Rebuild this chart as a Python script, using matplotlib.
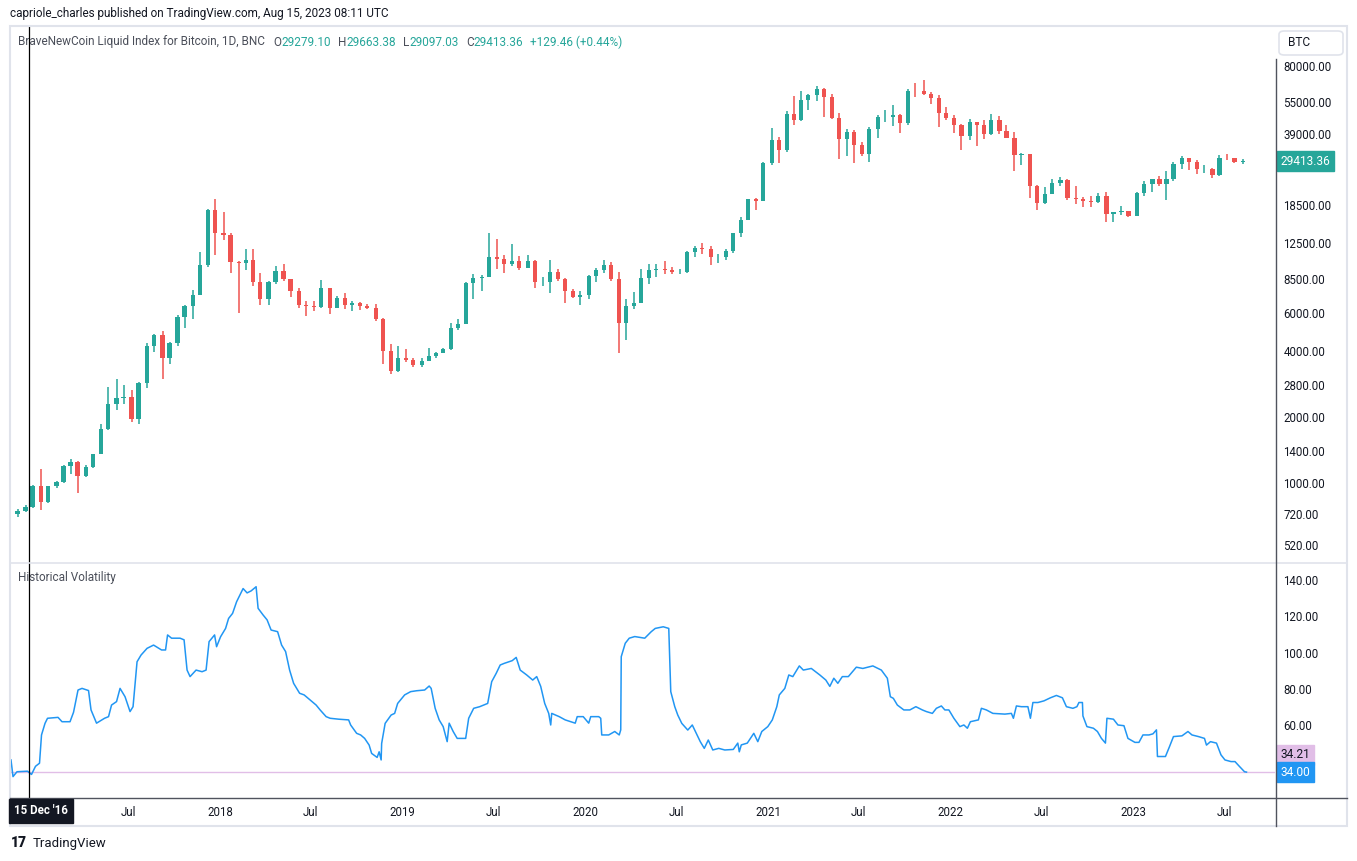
import numpy as np
import pandas as pd
import matplotlib
matplotlib.use('Agg')
import matplotlib.pyplot as plt
import matplotlib.dates as mdates
from matplotlib.patches import Rectangle, FancyBboxPatch
from matplotlib.lines import Line2D

plt.rcParams['font.family'] = ['Roboto', 'DejaVu Sans']

# semi-monthly candles (1st / 15th), each open is the previous close
candle_start = pd.date_range('2016-11-15', '2023-08-01', freq='SMS')
first_open = 720
closes = [745, 780, 965,
          820, 965, 1010, 1190, 1250, 1080, 1180, 1350, 1760, 2300, 2450, 2480,
          1950, 2870, 4200, 4750, 3700, 4350, 5700, 6450, 7250, 9900, 17600, 13800,
          13600, 10200, 10100, 10400, 8300, 6900, 8300, 9250, 8500, 7500, 6500, 6400,
          6350, 7750, 6300, 7000, 6500, 6600, 6400, 6300, 5600, 4000, 3250, 3700,
          3650, 3450, 3600, 3800, 3900, 4100, 5100, 5300, 8200, 8600, 8700, 10800,
          10500, 10000, 10300, 9600, 10300, 8300, 8300, 9150, 8500, 7550, 7100, 7200,
          8800, 9350, 9900, 8550, 5350, 6400, 6650, 8650, 9350, 9450, 9400, 9150,
          9200, 11300, 11800, 11650, 10800, 10800, 11400, 13800, 15900, 19700, 19400, 29000,
          36800, 33100, 48600, 45200, 56000, 58800, 63200, 57700, 46500, 37300, 40200, 35000,
          31800, 41500, 47000, 47100, 48100, 43800, 61500, 61300, 60000, 57000, 48900, 46300,
          43100, 38500, 44500, 43200, 39300, 45500, 40500, 37700, 31300, 31800, 22600, 19000,
          20800, 23300, 24200, 20000, 19700, 19400, 19100, 20500, 16900, 17200, 17400, 16550,
          21000, 23100, 24300, 23150, 24400, 28500, 30400, 29300, 27200, 27200, 25600, 30500,
          30300, 29200, 29413.36]
highs = [760, 790, 975,
         1160, 970, 1020, 1210, 1290, 1260, 1210, 1360, 1850, 2750, 2980, 2800,
         2650, 2900, 4350, 4800, 4950, 4400, 5850, 6470, 7600, 11300, 17900, 19800,
         17200, 13900, 10300, 11700, 11700, 9100, 8400, 9800, 9950, 8550, 7750, 6800,
         6800, 8450, 7800, 7150, 7400, 6800, 6700, 6550, 6550, 5650, 4300, 4200,
         4100, 3700, 3700, 4150, 3950, 4150, 5400, 5600, 8300, 9000, 8900, 13800,
         13000, 11000, 12300, 10900, 10950, 10400, 8700, 10400, 9500, 8600, 7700, 7500,
         8900, 9600, 10400, 10200, 9200, 6900, 7450, 9450, 10000, 9950, 10300, 9700,
         9450, 11400, 12100, 12450, 12050, 11100, 11700, 13900, 16400, 19850, 19900, 29300,
         41900, 38000, 49700, 58300, 61700, 60000, 64800, 63600, 59500, 48900, 41300, 40900,
         35900, 42300, 48100, 50500, 52900, 48500, 62900, 67000, 68900, 61000, 59000, 52000,
         47900, 43500, 45800, 44600, 45400, 48200, 47400, 42900, 39900, 32000, 31800, 23000,
         22400, 24300, 25000, 24400, 22700, 20300, 20400, 21000, 21400, 17300, 18300, 17500,
         21200, 23900, 24500, 25200, 26500, 29200, 31000, 30500, 29800, 28400, 27400, 31400,
         31800, 30400, 30200]
lows = [700, 740, 770,
        750, 810, 950, 1000, 1100, 900, 1060, 1170, 1350, 1740, 2150, 2300,
        1900, 1850, 2700, 3950, 2980, 3500, 4200, 5100, 5600, 7200, 9700, 11000,
        12800, 9100, 6000, 9400, 7900, 6500, 6500, 8100, 8400, 7100, 6300, 5800,
        6100, 6300, 5900, 6300, 6200, 6100, 6150, 6200, 5500, 3500, 3150, 3200,
        3550, 3400, 3400, 3600, 3700, 3900, 4050, 5000, 5300, 6900, 7500, 8700,
        9500, 9100, 9800, 9400, 9600, 7800, 7900, 7400, 8400, 6600, 7000, 6500,
        6900, 8300, 9100, 8400, 3900, 4500, 6200, 6600, 8100, 8700, 8950, 8950,
        9000, 9050, 10700, 11100, 9900, 10150, 10400, 11200, 13300, 15800, 17600, 19300,
        28200, 29000, 32300, 43000, 45000, 50500, 55600, 47000, 46000, 30000, 31100, 28800,
        31000, 29300, 37600, 44300, 42800, 39600, 43300, 58000, 59000, 53500, 42000, 45500,
        39800, 33000, 36700, 34400, 37200, 38800, 39300, 37600, 26700, 28300, 20100, 17600,
        18800, 20800, 22600, 19600, 18700, 18200, 18200, 19000, 15600, 15500, 16800, 16300,
        16500, 20400, 21400, 22800, 19600, 24000, 27200, 26900, 25800, 26100, 24800, 25300,
        29800, 28900, 28700]

vol_dates = [
    '2016-11-09', '2016-11-13', '2016-11-21', '2016-12-12', '2016-12-20', '2016-12-28',
    '2017-01-05', '2017-01-09', '2017-01-16', '2017-01-21', '2017-02-11', '2017-02-19',
    '2017-03-07', '2017-03-14', '2017-03-23', '2017-03-31', '2017-04-13', '2017-04-18',
    '2017-04-29', '2017-05-15', '2017-05-23', '2017-05-29', '2017-06-08', '2017-06-15',
    '2017-06-25', '2017-07-05', '2017-07-11', '2017-07-19', '2017-07-27', '2017-08-08',
    '2017-08-21', '2017-09-06', '2017-09-14', '2017-09-18', '2017-09-26', '2017-10-13',
    '2017-10-21', '2017-10-27', '2017-11-02', '2017-11-14', '2017-11-26', '2017-12-04',
    '2017-12-10', '2017-12-21', '2017-12-25',
    '2018-01-02', '2018-01-12', '2018-01-18', '2018-01-26', '2018-02-03', '2018-02-16',
    '2018-02-24', '2018-03-04', '2018-03-14', '2018-03-18', '2018-03-28', '2018-04-05',
    '2018-04-13', '2018-04-26', '2018-05-04', '2018-05-12', '2018-05-20', '2018-05-28',
    '2018-06-09', '2018-06-18', '2018-06-30', '2018-07-12', '2018-07-20', '2018-08-01',
    '2018-08-09', '2018-08-26', '2018-09-15', '2018-09-19', '2018-10-01', '2018-10-09',
    '2018-10-17', '2018-10-26', '2018-10-31', '2018-11-11', '2018-11-15', '2018-11-19',
    '2018-11-20', '2018-11-27', '2018-12-09', '2018-12-16', '2018-12-22',
    '2019-01-05', '2019-01-17', '2019-01-29', '2019-02-14', '2019-02-23', '2019-02-27',
    '2019-03-07', '2019-03-15', '2019-03-23', '2019-03-31', '2019-04-04', '2019-04-12',
    '2019-04-20', '2019-05-07', '2019-05-13', '2019-05-23', '2019-06-04', '2019-06-20',
    '2019-06-28', '2019-07-07', '2019-07-15', '2019-07-23', '2019-08-08', '2019-08-16',
    '2019-08-24', '2019-09-06', '2019-09-18', '2019-09-26', '2019-10-04', '2019-10-12',
    '2019-10-20', '2019-10-24', '2019-10-26', '2019-11-10', '2019-11-22', '2019-12-12',
    '2019-12-16', '2019-12-28',
    '2020-01-08', '2020-01-12', '2020-01-28', '2020-02-01', '2020-02-03', '2020-02-17',
    '2020-02-29', '2020-03-09', '2020-03-12', '2020-03-13', '2020-03-21', '2020-03-29',
    '2020-04-09', '2020-04-29', '2020-05-12', '2020-05-20', '2020-06-05', '2020-06-16',
    '2020-06-20', '2020-06-28', '2020-07-04', '2020-07-12', '2020-07-24', '2020-08-02',
    '2020-08-10', '2020-08-18', '2020-08-26', '2020-09-03', '2020-09-12', '2020-09-24',
    '2020-10-06', '2020-10-23', '2020-11-01', '2020-11-04', '2020-11-08', '2020-11-20',
    '2020-12-03', '2020-12-11', '2020-12-19', '2020-12-31',
    '2021-01-09', '2021-01-18', '2021-01-23', '2021-02-03', '2021-02-11', '2021-02-19',
    '2021-03-04', '2021-03-12', '2021-03-28', '2021-04-14', '2021-04-26', '2021-05-04',
    '2021-05-12', '2021-05-20', '2021-05-29', '2021-06-10', '2021-06-26', '2021-07-09',
    '2021-07-29', '2021-08-15', '2021-08-27', '2021-09-02', '2021-09-08', '2021-09-16',
    '2021-09-29', '2021-10-11', '2021-10-23', '2021-11-05', '2021-11-13', '2021-11-25',
    '2021-12-03', '2021-12-13', '2021-12-20', '2021-12-28',
    '2022-01-07', '2022-01-19', '2022-01-27', '2022-02-03', '2022-02-09', '2022-02-25',
    '2022-03-03', '2022-03-13', '2022-03-26', '2022-04-19', '2022-05-02', '2022-05-06',
    '2022-05-12', '2022-05-22', '2022-06-04', '2022-06-09', '2022-06-14', '2022-06-24',
    '2022-07-06', '2022-07-19', '2022-07-31', '2022-08-12', '2022-08-20', '2022-09-02',
    '2022-09-10', '2022-09-14', '2022-09-21', '2022-09-22', '2022-09-30', '2022-10-13',
    '2022-10-21', '2022-10-29', '2022-11-06', '2022-11-09', '2022-11-22', '2022-12-01',
    '2022-12-13', '2022-12-21',
    '2023-01-04', '2023-01-12', '2023-01-20', '2023-02-01', '2023-02-09', '2023-02-16',
    '2023-02-18', '2023-03-06', '2023-03-14', '2023-03-22', '2023-04-08', '2023-04-20',
    '2023-04-28', '2023-05-11', '2023-05-23', '2023-05-27', '2023-06-04', '2023-06-16',
    '2023-06-25', '2023-07-03', '2023-07-15', '2023-07-23', '2023-07-31', '2023-08-11',
    '2023-08-15']
vol_values = [
    40.7, 31.5, 34.2, 34.5, 32.7, 37.2,
    38.9, 54.5, 60.9, 63.7, 64.2, 61.8,
    61.8, 67.0, 79.3, 80.2, 79.0, 68.3,
    61.0, 63.7, 64.6, 71.0, 72.9, 80.2,
    75.6, 67.4, 70.1, 94.9, 98.6, 102.3,
    104.1, 101.4, 101.4, 109.7, 107.9, 107.9,
    107.0, 90.3, 86.7, 90.3, 89.4, 90.3,
    106.0, 109.7, 103.2,
    108.7, 113.3, 118.8, 121.6, 128.0, 135.3,
    132.9, 134.0, 136.3, 124.4, 120.7, 118.0,
    112.4, 111.5, 104.1, 100.5, 90.3, 83.0,
    77.5, 76.6, 73.8, 71.0, 68.3, 64.6,
    63.7, 63.2, 62.8, 60.0, 55.4, 54.5,
    52.6, 48.9, 44.3, 42.1, 45.2, 40.7,
    49.8, 60.9, 65.5, 66.4, 71.9,
    76.6, 78.4, 78.9, 79.3, 81.5, 80.2,
    69.2, 62.8, 59.1, 50.8, 61.0, 56.4,
    52.6, 52.6, 63.7, 69.2, 70.1, 71.9,
    83.9, 88.5, 93.1, 94.0, 95.5, 97.3,
    90.3, 87.6, 84.8, 86.7, 81.3, 71.9,
    66.4, 60.0, 66.4, 64.6, 62.8, 61.0,
    64.6, 64.6,
    61.0, 64.6, 64.6, 63.7, 54.5, 54.5,
    56.4, 54.5, 57.3, 97.7, 105.1, 107.9,
    108.8, 107.9, 111.5, 113.3, 114.2, 113.3,
    78.4, 70.1, 65.5, 60.9, 57.2, 60.0,
    55.4, 50.8, 47.1, 51.7, 46.2, 47.1,
    46.2, 46.5, 50.0, 45.2, 49.0, 50.0,
    55.4, 50.8, 56.4, 59.1,
    62.8, 70.1, 76.6, 80.2, 87.6, 86.7,
    92.6, 90.3, 91.2, 87.6, 84.8, 81.3,
    85.8, 83.0, 86.7, 86.7, 91.9, 91.2,
    92.6, 90.3, 85.8, 75.6, 74.7, 71.0,
    68.3, 68.3, 70.1, 68.3, 67.4, 66.4,
    69.2, 70.5, 68.3, 68.3,
    63.7, 59.1, 60.0, 58.2, 61.8, 62.8,
    69.2, 68.3, 66.4, 66.0, 66.4, 63.7,
    70.5, 70.1, 70.1, 63.7, 72.4, 72.4,
    73.3, 75.0, 76.3, 75.0, 70.1, 69.2,
    70.1, 72.4, 72.4, 65.0, 59.1, 58.2,
    56.4, 52.6, 50.0, 63.7, 63.2, 60.0,
    59.6, 52.6,
    50.4, 50.4, 54.5, 54.5, 55.1, 57.3,
    42.6, 42.6, 48.0, 53.6, 54.0, 56.4,
    54.5, 53.6, 52.6, 48.9, 50.8, 50.0,
    43.5, 40.7, 39.8, 39.8, 37.4, 34.2,
    34.0]
vol_level = 34.21

price_ticks = [80000, 55000, 39000, 28500, 18500, 12500, 8500, 6000, 4000, 2800, 2000, 1400, 1000, 720, 520]
vol_ticks = [140, 120, 100, 80, 60]
time_ticks = ['2017-07-01', '2018-01-01', '2018-07-01', '2019-01-01', '2019-07-01', '2020-01-01',
              '2020-07-01', '2021-01-01', '2021-07-01', '2022-01-01', '2022-07-01', '2023-01-01',
              '2023-07-01']
time_labels = ['Jul', '2018', 'Jul', '2019', 'Jul', '2020', 'Jul', '2021', 'Jul', '2022', 'Jul', '2023', 'Jul']

UP = '#26a69a'
DOWN = '#ef5350'
TXT = '#131722'
AXC = '#50535e'

W, H = 1357, 861
fig = plt.figure(figsize=(W / 100, H / 100), dpi=100)
fig.patch.set_facecolor('white')

def fx(x):
    return x / W

def fy(y):
    return 1 - y / H

ax = fig.add_axes([fx(10), fy(563), (1275 - 10) / W, (563 - 26) / H])
axv = fig.add_axes([fx(10), fy(798), (1275 - 10) / W, (798 - 563) / H], sharex=ax)

# candles
opens = [first_open] + closes[:-1]
centers = mdates.date2num(candle_start + pd.Timedelta(days=7))
for xc, o, c, h, l in zip(centers, opens, closes, highs, lows):
    col = UP if c >= o else DOWN
    ax.vlines(xc, l, h, color=col, lw=1.1, zorder=2)
    ax.bar(xc, abs(c - o), bottom=min(o, c), width=8.5, color=col, lw=0, zorder=3)

ax.set_yscale('log')
ax.set_ylim(431, 122000)
ax.set_xlim(mdates.datestr2num('2016-11-07'), mdates.datestr2num('2023-10-11'))
ax.yaxis.set_major_locator(matplotlib.ticker.FixedLocator(price_ticks))
ax.yaxis.set_minor_locator(matplotlib.ticker.NullLocator())
ax.yaxis.set_major_formatter(matplotlib.ticker.FuncFormatter(lambda v, p: f'{v:.2f}'))
ax.tick_params(axis='y', right=True, labelright=True, left=False, labelleft=False,
               length=0, pad=6, labelsize=8.3, labelcolor=TXT)
ax.tick_params(axis='x', bottom=False, labelbottom=False)
for s in ax.spines.values():
    s.set_visible(False)

# volatility pane
vd = pd.to_datetime(vol_dates)
axv.plot(vd, vol_values, color='#2196f3', lw=1.1, zorder=3)
axv.axhline(vol_level, color='#e1bee7', lw=1, zorder=2)
axv.set_ylim(19.7, 149.4)
axv.set_yticks(vol_ticks)
axv.yaxis.set_major_formatter(matplotlib.ticker.FuncFormatter(lambda v, p: f'{v:.2f}'))
axv.tick_params(axis='y', right=True, labelright=True, left=False, labelleft=False,
                length=0, pad=6, labelsize=8.3, labelcolor=TXT)
axv.set_xticks(pd.to_datetime(time_ticks))
axv.set_xticklabels(time_labels)
axv.tick_params(axis='x', length=0, pad=6, labelsize=8.3, labelcolor=TXT)
for s in axv.spines.values():
    s.set_visible(False)

# crosshair on 15 Dec 2016
for a in (ax, axv):
    a.axvline(mdates.datestr2num('2016-12-15'), color='black', lw=0.9, zorder=5)

# last value labels
ax.annotate(f'{closes[-1]:.2f}', xy=(1, closes[-1]), xycoords=ax.get_yaxis_transform(),
            xytext=(4, 0), textcoords='offset points', ha='left', va='center',
            fontsize=8.6, color='white', zorder=10, annotation_clip=False,
            bbox=dict(boxstyle='square,pad=0.28', fc=UP, ec=UP))
axv.annotate(f'{vol_level:.2f}', xy=(1, vol_values[-1]), xycoords=axv.get_yaxis_transform(),
             xytext=(4, 12.4), textcoords='offset points', ha='left', va='center',
             fontsize=8.6, color=TXT, zorder=10, annotation_clip=False,
             bbox=dict(boxstyle='square,pad=0.28', fc='#e1bee7', ec='#e1bee7'))
axv.annotate(f'{vol_values[-1]:.2f}', xy=(1, vol_values[-1]), xycoords=axv.get_yaxis_transform(),
             xytext=(4, 0), textcoords='offset points', ha='left', va='center',
             fontsize=8.6, color='white', zorder=10, annotation_clip=False,
             bbox=dict(boxstyle='square,pad=0.28', fc='#2196f3', ec='#2196f3'))

# frame, divider and axis lines
fig.add_artist(Rectangle((fx(10), fy(826)), (1347 - 10) / W, (826 - 26) / H,
                         transform=fig.transFigure, fill=False, ec='#e0e3eb', lw=1.5))
fig.add_artist(Line2D([fx(10), fx(1347)], [fy(563), fy(563)], transform=fig.transFigure,
                      color='#e0e3eb', lw=1.2))
fig.add_artist(Line2D([fx(10), fx(1347)], [fy(798), fy(798)], transform=fig.transFigure,
                      color=AXC, lw=1))
fig.add_artist(Line2D([fx(1275.5), fx(1275.5)], [fy(59), fy(826)], transform=fig.transFigure,
                      color=AXC, lw=1))

# BTC box
fig.add_artist(FancyBboxPatch((fx(1279), fy(55)), 64 / W, 24 / H, transform=fig.transFigure,
                              boxstyle='round,pad=0,rounding_size=0.004', fc='white', ec='#e0e3eb', lw=1.2))
fig.text(fx(1288), fy(43), 'BTC', fontsize=8.6, color=TXT, ha='left', va='center')

# crosshair date label
fig.text(fx(14), fy(811), "15 Dec '16", fontsize=8.3, color='white', ha='left', va='center',
         fontweight='bold', bbox=dict(boxstyle='square,pad=0.45', fc=TXT, ec=TXT), zorder=10)

# header texts
fig.text(fx(10), fy(14), 'capriole_charles published on TradingView.com, Aug 15, 2023 08:11 UTC',
         fontsize=8.5, color=TXT, ha='left', va='center')

renderer = fig.canvas.get_renderer()
def text_run(x, y, pieces, size=8.5):
    for s, c, gap in pieces:
        x += gap
        t = fig.text(fx(x), fy(y), s, fontsize=size, color=c, ha='left', va='center')
        x += t.get_window_extent(renderer=renderer).width

text_run(18, 42, [('BraveNewCoin Liquid Index for Bitcoin, 1D, BNC', '#4a4e59', 0),
                  ('O', '#4a4e59', 9), ('29279.10', UP, 0),
                  ('H', '#4a4e59', 7), ('29663.38', UP, 0),
                  ('L', '#4a4e59', 7), ('29097.03', UP, 0),
                  ('C', '#4a4e59', 7), ('29413.36', UP, 0),
                  ('+129.46 (+0.44%)', UP, 7)])

fig.text(fx(18), fy(578), 'Historical Volatility', fontsize=8.5, color='#4a4e59', ha='left', va='center')

# footer logo
fig.text(fx(11), fy(843), '17', fontsize=10, color=TXT, ha='left', va='center', fontweight='heavy')
fig.text(fx(33), fy(843), 'TradingView', fontsize=9.5, color=TXT, ha='left', va='center')

fig.savefig('out.png', dpi=100, facecolor='white')
